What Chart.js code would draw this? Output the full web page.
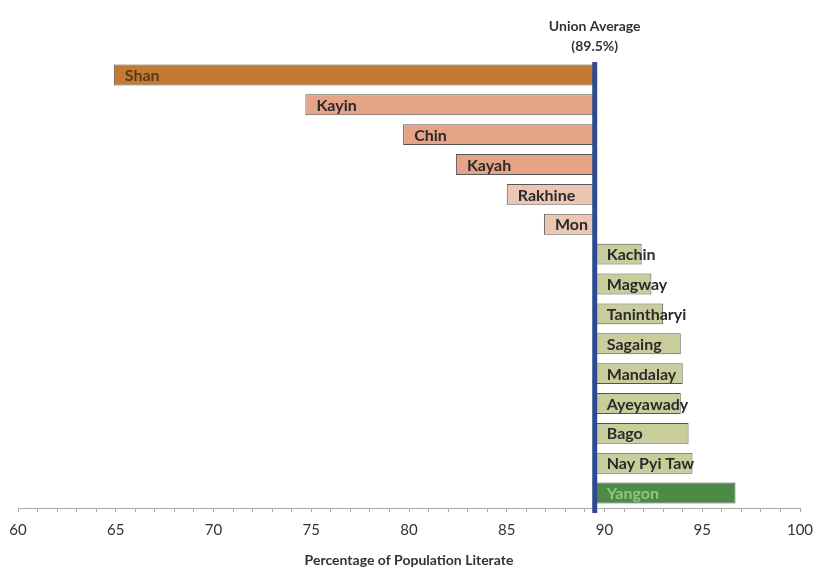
<!DOCTYPE html>
<html>
<head>
<meta charset="utf-8">
<script src="https://cdn.jsdelivr.net/npm/chart.js@4.4.1/dist/chart.umd.min.js"></script>
<style>
  body { margin: 0; background: #fff; }
</style>
</head>
<body>
<canvas id="chart" width="815" height="568"></canvas>
<script>
// literacy by state / region, drawn as bars off the union average
const regions = ["Shan", "Kayin", "Chin", "Kayah", "Rakhine", "Mon", "Kachin", "Magway",
  "Tanintharyi", "Sagaing", "Mandalay", "Ayeyawady", "Bago", "Nay Pyi Taw", "Yangon"];
const literacy = [64.9, 74.7, 79.7, 82.4, 85.0, 86.9, 91.9, 92.4, 93.0, 93.9, 94.0, 93.9, 94.3, 94.5, 96.7];
const unionAverage = 89.5;
const xMin = 60;
const xMax = 100;

const barColors = ["#c27a35", "#e6a486", "#e6a486", "#e6a486", "#ebc6b3", "#ebc6b3",
  "#c9cd9c", "#c9cd9c", "#c9cd9c", "#c9cd9c", "#c9cd9c", "#c9cd9c", "#c9cd9c", "#c9cd9c", "#4d8a48"];
const textColors = ["#5b3a18", "#2a2a2a", "#2a2a2a", "#2a2a2a", "#2a2a2a", "#2a2a2a",
  "#2a2a2a", "#2a2a2a", "#2a2a2a", "#2a2a2a", "#2a2a2a", "#2a2a2a", "#2a2a2a", "#2a2a2a", "#93c486"];

const fontFamily = "Lato, 'Open Sans', sans-serif";

// names written inside each bar, from its left end
const barNames = {
  id: "barNames",
  afterDatasetsDraw(chart) {
    const ctx = chart.ctx;
    const x = chart.scales.x;
    const meta = chart.getDatasetMeta(0);
    ctx.save();
    ctx.font = "bold 16px " + fontFamily;
    ctx.textBaseline = "middle";
    meta.data.forEach((bar, i) => {
      const left = x.getPixelForValue(Math.min(literacy[i], unionAverage));
      ctx.fillStyle = textColors[i];
      ctx.fillText(regions[i], left + (literacy[i] < unionAverage ? 11 : 12), bar.y + 1);
    });
    ctx.restore();
  }
};

// blue average line with its caption
const averageLine = {
  id: "averageLine",
  afterDatasetsDraw(chart) {
    const ctx = chart.ctx;
    const area = chart.chartArea;
    const px = chart.scales.x.getPixelForValue(unionAverage);
    ctx.save();
    ctx.fillStyle = "#2c4b93";
    ctx.fillRect(px - 2.5, area.top + 2, 5, area.bottom - area.top + 3);
    ctx.fillStyle = "#333";
    ctx.font = "bold 14px " + fontFamily;
    ctx.textAlign = "center";
    ctx.textBaseline = "middle";
    ctx.fillText("Union Average", px, 26);
    ctx.fillText("(" + unionAverage + "%)", px, 46);
    ctx.restore();
  }
};

new Chart(document.getElementById("chart"), {
  type: "bar",
  data: {
    labels: regions,
    datasets: [{
      data: literacy.map(v => [unionAverage, v]),
      backgroundColor: barColors,
      borderColor: "#555",
      borderWidth: 1,
      borderSkipped: false,
      barPercentage: 0.7,
      categoryPercentage: 1
    }]
  },
  options: {
    indexAxis: "y",
    responsive: false,
    animation: false,
    layout: { padding: { top: 60, left: 18, right: 15, bottom: 0 } },
    plugins: {
      legend: { display: false },
      tooltip: { enabled: false }
    },
    scales: {
      y: { display: false },
      x: {
        min: xMin,
        max: xMax,
        afterFit: scale => { scale.paddingRight = 0; },
        grid: { drawOnChartArea: false, drawTicks: true, tickLength: 4, color: "#aaa" },
        border: { display: true, color: "#aaa" },
        ticks: {
          stepSize: 1,
          autoSkip: false,
          maxRotation: 0,
          padding: 9,
          color: "#333",
          font: { family: fontFamily, size: 15 },
          callback: v => (v % 5 === 0 ? v : "")
        },
        title: {
          display: true,
          text: "Percentage of Population Literate",
          color: "#333",
          font: { family: fontFamily, size: 14, weight: "bold", lineHeight: 1 },
          padding: { top: 5, bottom: 1 }
        }
      }
    }
  },
  plugins: [barNames, averageLine]
});
</script>
</body>
</html>
